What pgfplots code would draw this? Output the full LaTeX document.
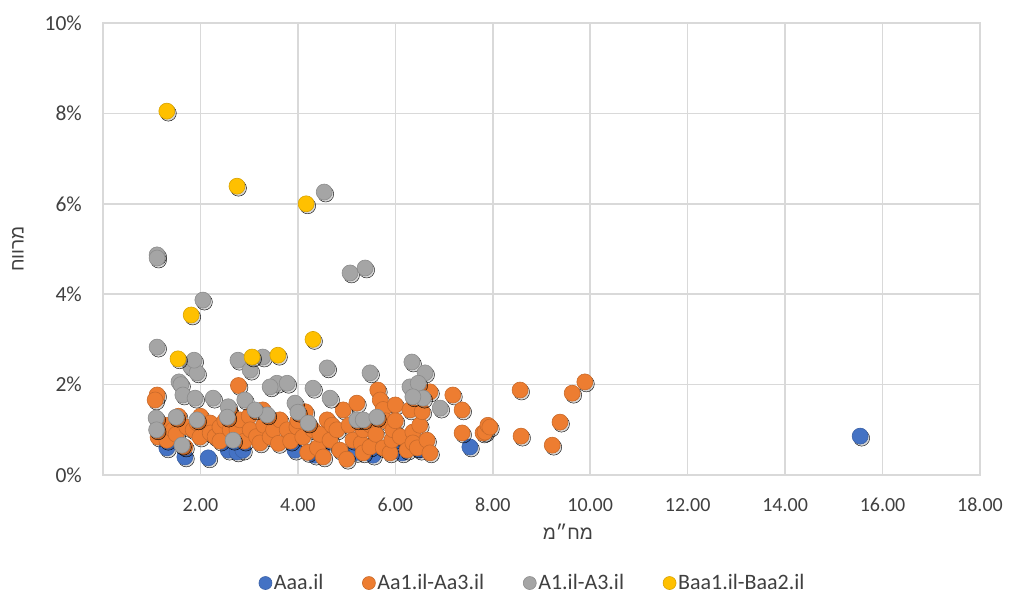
\documentclass[border=0pt]{standalone}
\usepackage{fontspec}
\usepackage{pgfplots}
\usepackage{pgfplotstable}
\pgfplotsset{compat=1.18}
\setmainfont{Carlito}
\newfontfamily\hebfont[Script=Hebrew]{Liberation Sans}
\TeXXeTstate=1
\definecolor{cBlue}{HTML}{4472C4}
\definecolor{cOrange}{HTML}{ED7D31}
\definecolor{cGray}{HTML}{A5A5A5}
\definecolor{cYellow}{HTML}{FFC000}
\definecolor{gridgray}{HTML}{D9D9D9}
\definecolor{txt}{HTML}{404040}

\pgfplotstableread{
x y
1.31 0.60
1.68 0.40
2.16 0.38
2.57 0.55
2.75 0.51
2.87 0.55
3.94 0.55
4.35 0.44
4.50 0.60
5.20 0.50
5.54 0.44
6.14 0.49
6.51 0.55
7.53 0.62
15.54 0.86
}\tblA

\pgfplotstableread{
x y
1.11 1.77
1.07 1.66
1.13 0.84
1.20 0.95
1.30 1.10
1.31 0.77
1.44 1.00
1.50 0.90
1.55 1.30
1.72 1.06
1.68 0.62
1.85 1.00
1.93 1.15
1.99 0.84
2.00 1.30
2.20 1.15
2.20 0.93
2.30 0.85
2.40 1.06
2.40 0.75
2.50 1.20
2.60 1.40
2.61 1.00
2.78 1.98
2.75 1.00
2.81 1.22
2.90 0.75
3.00 1.30
3.02 1.00
3.15 0.85
3.22 0.71
3.28 1.44
3.30 1.10
3.43 0.84
3.50 1.00
3.60 0.70
3.63 1.22
3.78 1.00
3.85 0.75
3.98 1.06
4.00 1.20
4.10 0.84
4.15 1.40
4.20 0.50
4.31 1.00
4.40 0.60
4.45 0.90
4.52 0.40
4.60 1.22
4.66 0.77
4.70 1.10
4.80 1.00
4.86 0.55
4.93 1.44
5.00 0.35
5.05 1.10
5.13 0.77
5.21 1.59
5.30 0.70
5.34 0.49
5.34 1.00
5.48 0.62
5.50 1.10
5.60 0.90
5.64 1.88
5.69 1.66
5.75 0.60
5.75 1.45
5.80 1.20
5.89 0.49
5.93 0.77
5.95 1.00
6.00 1.20
6.00 1.55
6.10 0.85
6.24 0.55
6.30 1.44
6.36 0.95
6.36 0.71
6.45 0.60
6.50 1.10
6.55 1.40
6.65 0.77
6.71 0.49
6.71 1.84
7.18 1.77
7.37 1.44
7.37 0.93
7.80 0.93
7.84 0.95
7.90 1.10
7.94 1.06
8.56 1.88
8.58 0.86
9.22 0.66
9.38 1.17
9.63 1.81
9.89 2.06
}\tblB

\pgfplotstableread{
x y
1.11 4.87
1.11 4.80
2.05 3.87
4.54 6.26
5.07 4.47
5.38 4.58
1.11 2.83
1.09 1.26
1.10 1.00
1.62 0.66
1.56 2.06
1.60 2.00
1.80 2.40
1.93 2.26
1.87 2.54
1.50 1.28
1.64 1.77
1.89 1.70
1.93 1.22
2.26 1.70
2.57 1.51
2.55 1.28
2.77 2.54
3.28 2.61
3.02 2.32
3.57 2.03
3.78 2.03
3.43 1.95
4.60 2.37
4.31 1.92
4.66 1.70
3.94 1.59
4.00 1.39
4.21 1.15
2.91 1.66
3.37 1.33
3.12 1.44
2.67 0.77
5.21 1.22
5.34 1.22
5.48 2.26
6.34 2.50
6.61 2.26
6.30 1.95
6.47 2.03
6.57 1.70
6.36 1.73
6.92 1.48
5.62 1.28
}\tblC

\pgfplotstableread{
x y
1.31 8.05
2.75 6.39
4.17 6.00
1.81 3.54
4.31 3.00
1.54 2.57
3.06 2.61
3.59 2.65
}\tblD

\pgfplotsset{
  dotleg/.style={legend image code/.code={\draw[mark repeat=2,mark phase=2,##1,mark size=6.5pt] plot coordinates {(0pt,0pt)(6.5pt,0pt)(13pt,0pt)};}},
  shadow/.style={only marks, mark=*, mark size=8pt, forget plot,
    mark options={fill=black, draw=none, fill opacity=0.16, xshift=1.5pt, yshift=-2pt}},
  series/.style={only marks, mark=*, mark size=8pt, color=#1, dotleg,
    mark options={fill=#1, draw=#1!85!black, line width=0.6pt}},
}

\begin{document}
\begin{tikzpicture}
\path[use as bounding box] (-103pt,-124pt) rectangle (908pt,475pt);
\begin{axis}[
  at={(0pt,0pt)}, anchor=south west,
  scale only axis, width=877pt, height=452pt,
  xmin=0, xmax=18, ymin=0, ymax=10,
  xtick={2,4,...,18}, ytick={0,2,...,10},
  xticklabel={\pgfmathprintnumber[fixed,fixed zerofill,precision=2]{\tick}},
  yticklabel={\pgfmathprintnumber[fixed,precision=0]{\tick}\%},
  /pgf/number format/assume math mode=true,
  major tick length=0pt,
  grid=major,
  grid style={draw=gridgray, line width=1.5pt},
  axis line style={draw=gridgray, line width=1.5pt},
  tick label style={font=\fontsize{20}{24}\selectfont, text=txt},
  yticklabel style={inner sep=0pt, anchor=east, xshift=-21pt, font=\fontsize{21.5}{24}\selectfont},
  xticklabel style={inner sep=0pt, anchor=north, yshift=-23pt},
  xlabel={\hebfont\beginR מח״מ\endR},
  ylabel={\hebfont\beginR מרווח\endR},
  label style={font=\fontsize{19}{23}\selectfont, text=txt},
  xlabel style={at={(axis description cs:0.53,-0.126)}, anchor=center, inner sep=0pt},
  ylabel style={at={(axis description cs:-0.097,0.5)}, anchor=center, rotate=0, inner sep=0pt},
  legend columns=4,
  legend style={at={(axis description cs:0.49,-0.239)}, anchor=center, draw=none,
    font=\fontsize{22}{26}\selectfont, text=txt, inner sep=0pt,
    /tikz/every even column/.append style={column sep=37pt},
    legend cell align=left},
  clip=false,
]
\addplot[shadow] table {\tblA};
\addplot[series=cBlue] table {\tblA};
\addlegendentry{Aaa.il}
\addplot[shadow] table {\tblB};
\addplot[series=cOrange] table {\tblB};
\addlegendentry{Aa1.il-Aa3.il}
\addplot[shadow] table {\tblC};
\addplot[series=cGray] table {\tblC};
\addlegendentry{A1.il-A3.il}
\addplot[shadow] table {\tblD};
\addplot[series=cYellow] table {\tblD};
\addlegendentry{Baa1.il-Baa2.il}
\end{axis}
\end{tikzpicture}
\end{document}
